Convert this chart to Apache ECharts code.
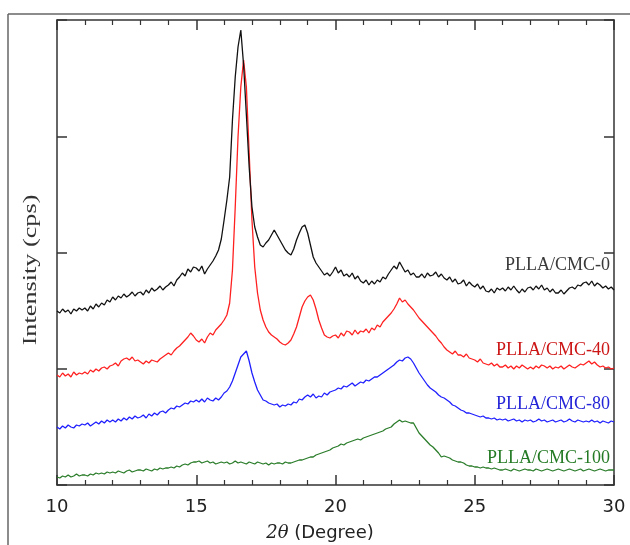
<!DOCTYPE html>
<html>
<head>
<meta charset="utf-8">
<script src="https://cdn.jsdelivr.net/npm/echarts@6/dist/echarts.min.js"></script>
<style>
  html, body { margin: 0; padding: 0; background: #fff; }
  #chart_xrd { width: 630px; height: 545px; }
</style>
</head>
<body>
<div id="chart_xrd"></div>
<script>
  // 2theta scan 10..30 deg, step 0.1
  const twoTheta = [];
  for (let i = 0; i <= 200; i++) {
    twoTheta.push(+(10 + i * 0.1).toFixed(1));
  }

  const sampleNames = ['PLLA/CMC-0', 'PLLA/CMC-40', 'PLLA/CMC-80', 'PLLA/CMC-100'];

  // intensity (arbitrary, stacked offsets as in the figure)
  const cmc0 = [
    174,172,176,173,175,171,176,174,177,175,
    177,174,179,176,181,178,182,180,185,183,
    188,185,189,187,191,188,190,193,189,192,
    193,190,195,192,197,194,196,199,195,198,
    200,203,199,205,208,212,209,216,213,218,
    217,214,219,211,216,220,224,229,235,246,
    265,285,308,365,408,438,455,420,370,318,
    278,258,248,240,238,242,245,250,255,250,
    245,240,235,232,230,236,245,252,258,260,
    252,240,228,222,218,214,210,212,209,213,
    218,212,215,209,211,208,212,206,209,204,
    202,205,200,204,201,205,203,208,206,211,
    215,219,216,223,218,213,215,210,212,208,
    208,211,207,212,209,210,213,208,211,207,
    205,208,203,206,201,202,205,199,203,200,
    198,201,196,199,194,193,196,192,197,195,
    197,194,198,195,199,195,192,196,193,197,
    198,195,199,196,200,195,197,193,196,192,
    192,195,191,194,197,198,196,200,199,202,
    203,200,204,199,202,200,197,199,196,198,
    195
  ];
  const cmc40 = [
    110,108,112,109,111,108,113,110,112,111,
    113,111,115,113,116,114,117,118,116,119,
    120,122,119,124,126,127,125,128,124,125,
    123,121,124,122,125,124,123,126,128,130,
    132,130,134,137,139,142,145,148,152,149,
    145,143,146,142,148,152,150,155,158,161,
    165,170,182,215,278,348,398,425,398,332,
    265,218,192,175,165,158,153,150,148,146,
    143,141,140,142,145,151,158,168,178,184,
    188,190,185,176,165,157,150,148,147,149,
    150,147,152,149,154,153,150,155,151,154,
    153,156,152,157,155,160,158,163,166,169,
    172,176,181,187,183,185,181,178,175,171,
    167,164,161,158,155,152,149,145,142,138,
    135,133,131,134,130,130,128,131,127,126,
    125,123,126,122,121,120,122,119,121,118,
    118,120,117,119,116,119,117,120,118,116,
    118,116,119,117,120,119,117,119,116,118,
    117,119,116,118,120,118,117,119,121,120,
    122,124,121,123,120,118,119,117,118,116,
    117
  ];
  const cmc80 = [
    58,56,59,57,60,58,57,60,59,61,
    60,62,59,61,63,61,64,62,65,63,
    65,63,66,64,67,65,68,66,69,67,
    68,70,67,71,69,72,70,73,74,72,
    75,77,76,79,78,80,82,81,84,83,
    85,83,86,83,87,85,84,87,85,88,
    92,94,98,104,112,120,128,131,134,124,
    112,103,95,90,85,84,82,81,80,81,
    78,80,79,81,80,83,82,86,85,88,
    90,88,91,87,89,88,92,90,93,94,
    95,97,96,99,98,100,102,99,101,103,
    102,105,104,106,108,108,110,112,114,116,
    118,120,123,125,124,127,128,126,122,117,
    112,108,104,100,97,95,93,90,88,87,
    85,83,80,79,77,75,74,72,72,71,
    70,69,68,69,67,67,66,67,65,66,
    65,66,64,65,66,64,65,63,65,64,
    65,63,64,66,64,65,63,64,65,63,
    64,65,63,64,66,64,63,65,64,63,
    64,63,65,63,64,62,64,63,62,64,
    63
  ];
  const cmc100 = [
    8,7,9,8,10,8,9,11,9,10,
    10,9,11,10,12,11,12,11,13,12,
    13,12,14,13,12,14,15,13,14,15,
    15,14,16,15,14,16,15,17,16,17,
    17,18,17,19,18,20,21,20,22,23,
    23,24,22,23,24,22,23,21,22,23,
    22,23,21,22,24,22,23,22,21,23,
    22,21,23,22,21,22,20,22,21,22,
    22,21,23,22,22,23,24,25,25,26,
    27,28,28,30,31,32,33,34,35,37,
    38,39,41,40,42,43,44,45,46,45,
    47,48,49,50,51,52,53,54,56,57,
    58,61,63,65,63,64,63,62,62,57,
    52,49,46,43,40,38,35,32,28,29,
    28,27,25,24,23,23,22,20,19,19,
    18,18,17,18,17,17,16,17,16,15,
    15,16,15,14,16,15,14,15,16,15,
    15,14,16,15,14,15,16,15,14,15,
    16,15,14,15,16,15,14,15,16,14,
    15,16,15,14,15,16,15,14,15,15,
    15
  ];

  const lineColors = ['#111111', '#ff2020', '#2020ff', '#2b7d2b'];
  const labelColors = ['#3a3a3a', '#cc1515', '#2424d8', '#247a24'];

  function pairs(values) {
    return values.map(function (v, i) { return [twoTheta[i], v]; });
  }

  const myChart = echarts.init(document.getElementById('chart_xrd'));

  const xAxisBase = {
    type: 'value',
    min: 10,
    max: 30,
    interval: 5,
    axisLine: { show: true, onZero: false, lineStyle: { color: '#333', width: 1.5 } },
    axisTick: { show: true, inside: true, length: 10, lineStyle: { color: '#333', width: 1.5 } },
    minorTick: { show: true, splitNumber: 5, length: 5, lineStyle: { color: '#333', width: 1.2 } },
    splitLine: { show: false },
    minorSplitLine: { show: false }
  };
  const yAxisBase = {
    type: 'value',
    min: 0,
    max: 465,
    interval: 116.25,
    axisLine: { show: true, onZero: false, lineStyle: { color: '#333', width: 1.5 } },
    axisTick: { show: true, inside: true, length: 10, lineStyle: { color: '#333', width: 1.5 } },
    axisLabel: { show: false },
    splitLine: { show: false }
  };

  const labelY = [265, 350, 404, 458];

  const option = {
    backgroundColor: '#fff',
    animation: false,
    grid: { left: 57, right: 16, top: 20, bottom: 60 },
    xAxis: [
      Object.assign({}, xAxisBase, {
        position: 'bottom',
        axisLabel: {
          show: true,
          margin: 13,
          fontSize: 18,
          fontFamily: 'DejaVu Sans',
          color: '#222'
        }
      }),
      Object.assign({}, xAxisBase, {
        position: 'top',
        axisLabel: { show: false }
      })
    ],
    yAxis: [
      Object.assign({}, yAxisBase, { position: 'left' }),
      Object.assign({}, yAxisBase, { position: 'right' })
    ],
    series: [cmc0, cmc40, cmc80, cmc100].map(function (vals, k) {
      return {
        name: sampleNames[k],
        type: 'line',
        xAxisIndex: 0,
        yAxisIndex: 0,
        showSymbol: false,
        data: pairs(vals),
        lineStyle: { color: lineColors[k], width: 1.3 },
        itemStyle: { color: lineColors[k] },
        z: 10 - k
      };
    }),
    graphic: [
      // outer frame of the figure
      { type: 'line', shape: { x1: 8, y1: 14, x2: 630, y2: 14 }, style: { stroke: '#666', lineWidth: 1.5 } },
      { type: 'line', shape: { x1: 8, y1: 14, x2: 8, y2: 545 }, style: { stroke: '#666', lineWidth: 1.5 } },
      {
        type: 'text',
        x: 31,
        y: 270,
        rotation: Math.PI / 2,
        scaleX: 1.38,
        style: {
          text: 'Intensity (cps)',
          font: '19px "Liberation Serif"',
          fill: '#333',
          textAlign: 'center',
          textVerticalAlign: 'middle'
        }
      },
      {
        type: 'text',
        x: 320,
        y: 533,
        style: {
          text: '{i|2θ} (Degree)',
          font: '18px "DejaVu Sans"',
          fill: '#222',
          textAlign: 'center',
          textVerticalAlign: 'middle',
          rich: {
            i: { fontStyle: 'italic', fontFamily: 'DejaVu Serif', fontSize: 18, fill: '#222' }
          }
        }
      }
    ].concat(sampleNames.map(function (name, k) {
      return {
        type: 'text',
        x: 610,
        y: labelY[k],
        style: {
          text: name,
          font: '18px "Liberation Serif"',
          fill: labelColors[k],
          textAlign: 'right',
          textVerticalAlign: 'middle'
        }
      };
    }))
  };

  myChart.setOption(option);
</script>
</body>
</html>
